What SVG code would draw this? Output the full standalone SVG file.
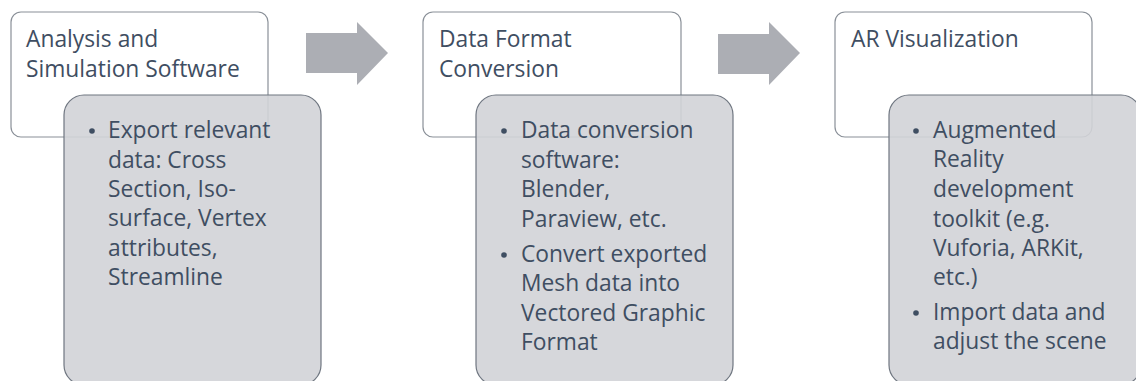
<svg xmlns="http://www.w3.org/2000/svg" width="1136" height="381" viewBox="0 0 1136 381">
<style>
.head{fill:#ffffff;stroke:#8a9098;stroke-width:1.2}
.body{fill:#d2d3d7;fill-opacity:0.9;stroke:#6f7680;stroke-width:1.2}
.arrow{fill:#acaeb4}
text{font-family:"Open Sans","Noto Sans",sans-serif;font-size:22.8px;fill:#3f4e62}
.dot{fill:#3f4e62}
</style>
<rect width="1136" height="381" fill="#ffffff"/>
<g id="connectors">
<polygon class="arrow" points="306,33 357,33 357,22 388,53 357,85 357,73 306,73"/>
<polygon class="arrow" points="718,34 769,34 769,22 800,53 769,85 769,74 718,74"/>
</g>
<g id="node1">
<rect class="head" x="11" y="12" width="257" height="125" rx="10"/>
<text x="26" y="47">Analysis and</text>
<text x="26" y="77">Simulation Software</text>
<rect class="body" x="64" y="95" width="257" height="290" rx="20"/>
<circle class="dot" cx="92" cy="131" r="2.8"/>
<text x="108"><tspan x="108" y="138">Export relevant</tspan><tspan x="108" y="167.5">data: Cross</tspan><tspan x="108" y="197">Section, Iso-</tspan><tspan x="108" y="226">surface, Vertex</tspan><tspan x="108" y="255.5">attributes,</tspan><tspan x="108" y="285">Streamline</tspan></text>
</g>
<g id="node2">
<rect class="head" x="423" y="12" width="258" height="125" rx="10"/>
<text x="439" y="47">Data Format</text>
<text x="439" y="77">Conversion</text>
<rect class="body" x="476" y="95" width="257" height="290" rx="20"/>
<circle class="dot" cx="504" cy="131" r="2.8"/>
<text><tspan x="521" y="138">Data conversion</tspan><tspan x="521" y="167.5">software:</tspan><tspan x="521" y="197">Blender,</tspan><tspan x="521" y="227">Paraview, etc.</tspan></text>
<circle class="dot" cx="504" cy="255" r="2.8"/>
<text><tspan x="521" y="262">Convert exported</tspan><tspan x="521" y="291">Mesh data into</tspan><tspan x="521" y="320.5">Vectored Graphic</tspan><tspan x="521" y="349.5">Format</tspan></text>
</g>
<g id="node3">
<rect class="head" x="835" y="12" width="257" height="125" rx="10"/>
<text x="851" y="47">AR Visualization</text>
<rect class="body" x="889" y="95" width="252" height="290" rx="20"/>
<circle class="dot" cx="916" cy="131" r="2.8"/>
<text><tspan x="933" y="138">Augmented</tspan><tspan x="933" y="167">Reality</tspan><tspan x="933" y="197">development</tspan><tspan x="933" y="226.5">toolkit (e.g.</tspan><tspan x="933" y="255.5">Vuforia, ARKit,</tspan><tspan x="933" y="284.5">etc.)</tspan></text>
<circle class="dot" cx="916" cy="313" r="2.8"/>
<text><tspan x="933" y="320">Import data and</tspan><tspan x="933" y="349">adjust the scene</tspan></text>
</g>
</svg>
